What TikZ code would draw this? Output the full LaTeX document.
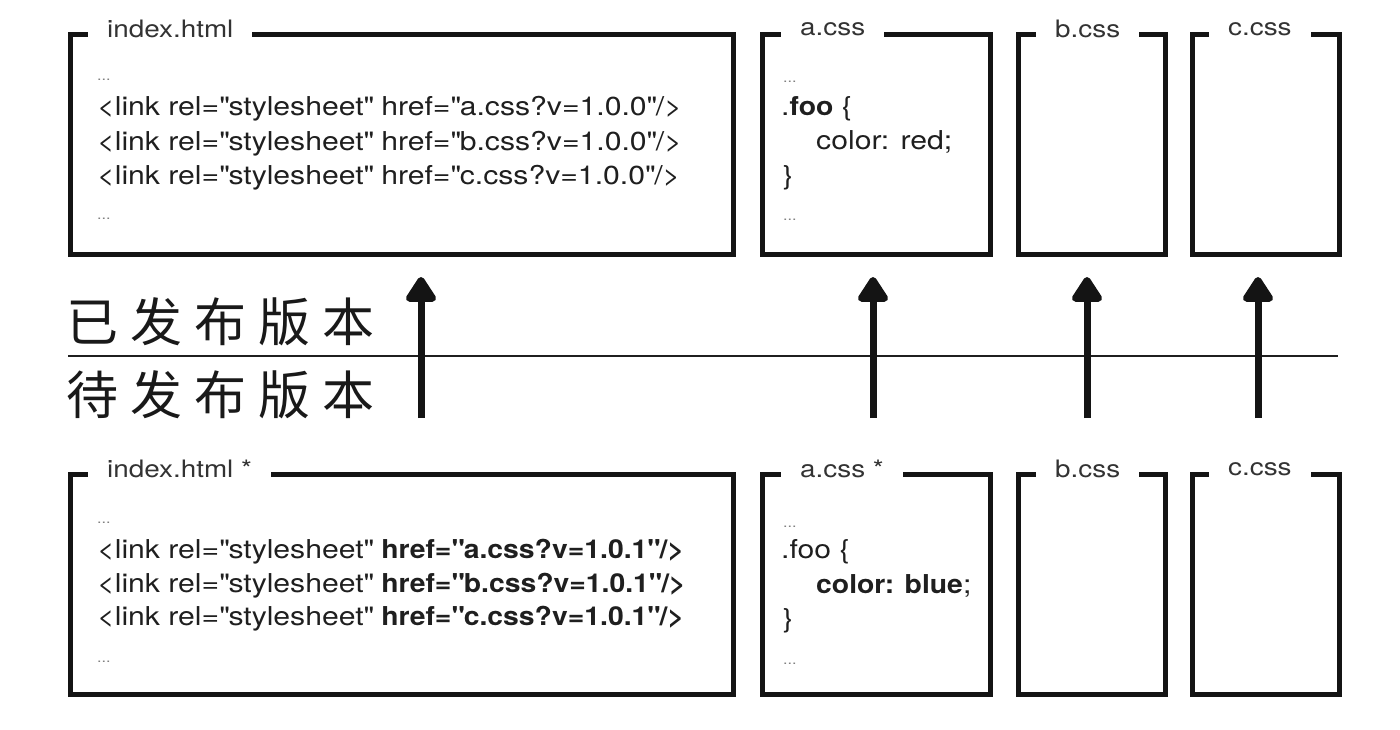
\documentclass[tikz,border=0pt]{standalone}
\usepackage{fontspec}
\setmainfont{TeX Gyre Heros}[FakeStretch=1.16, BoldFeatures={FakeStretch=1.09}]
\newfontfamily\cjk{Noto Sans CJK SC}
\usetikzlibrary{arrows.meta}
\newcommand{\cjkspaced}[1]{\cjkrun#1\relax}
\def\cjkrun#1{\ifx#1\relax\else\makebox[64pt][l]{#1}\expandafter\cjkrun\fi}
\newcommand{\qq}{\textquotedbl}
\begin{document}
\begin{tikzpicture}[x=1pt,y=-1pt,
  frame/.style={draw=black!92, line width=5pt, rectangle, inner sep=0pt, anchor=north west},
  ttl/.style={fill=white, inner xsep=19pt, inner ysep=4pt, anchor=west, text=black!80,
    font=\fontsize{24}{24}\selectfont},
  code/.style={anchor=base west, inner sep=0pt, text=black!88, font=\fontsize{26}{30}\selectfont},
  dots/.style={anchor=base west, inner sep=0pt, text=black!50, font=\fontsize{14}{14}\selectfont},
  cn/.style={anchor=base west, inner sep=0pt, text=black!90, font=\cjk\fontsize{52}{52}\selectfont},
  up/.style={line width=7pt, draw=black!92, -{Triangle[width=34pt,length=28pt,round]}},
  divider/.style={draw=black!88, line width=2.5pt}
]
\useasboundingbox (0,0) rectangle (1400,730);

% ---------- top row (released) ----------
\node[frame, minimum width=663pt, minimum height=220pt] (idx1) at (68,32) {};
\node[frame, minimum width=228pt, minimum height=220pt] (acss1) at (760,32) {};
\node[frame, minimum width=147pt, minimum height=220pt] (bcss1) at (1016,32) {};
\node[frame, minimum width=147pt, minimum height=220pt] (ccss1) at (1190,32) {};
\node[ttl] (tidx1) at (88,29) {index.html};
\node[ttl] (tacss1) at (781,29) {a.css};
\node[ttl] (tbcss1) at (1036,29) {b.css};
\node[ttl] (tccss1) at (1209,29) {c.css};

\node[dots] (d11) at (97,81) {...};
\node[code] (l11) at (97,116) {<link rel=\qq stylesheet\qq{} href=\qq a.css?v=1.0.0\qq/>};
\node[code] (l12) at (97,151) {<link rel=\qq stylesheet\qq{} href=\qq b.css?v=1.0.0\qq/>};
\node[code] (l13) at (97,185) {<link rel=\qq stylesheet\qq{} href=\qq c.css?v=1.0.0\qq/>};
\node[dots] (d12) at (97,220) {...};

\node[dots] (d13) at (783,83) {...};
\node[code] (c11) at (781,116) {.\textbf{foo} \{};
\node[code] (c12) at (816,150) {color: red;};
\node[code] (c13) at (783,185) {\}};
\node[dots] (d14) at (783,221) {...};

% ---------- divider and labels ----------
\coordinate (hl) at (68,356);
\coordinate (hr) at (1338,356);
\draw[divider] (hl) -- (hr);
\node[cn] (released) at (66,341) {\cjkspaced{已发布版本}};
\node[cn] (pending) at (66,414) {\cjkspaced{待发布版本}};

% ---------- bottom row (pending) ----------
\node[frame, minimum width=663pt, minimum height=220pt] (idx2) at (68,472) {};
\node[frame, minimum width=228pt, minimum height=220pt] (acss2) at (760,472) {};
\node[frame, minimum width=147pt, minimum height=220pt] (bcss2) at (1016,472) {};
\node[frame, minimum width=147pt, minimum height=220pt] (ccss2) at (1190,472) {};
\node[ttl] (tidx2) at (88,469) {index.html *};
\node[ttl] (tacss2) at (781,469) {a.css *};
\node[ttl] (tbcss2) at (1036,469) {b.css};
\node[ttl] (tccss2) at (1209,469) {c.css};

\node[dots] (d21) at (97,523) {...};
\node[code] (l21) at (97,558) {<link rel=\qq stylesheet\qq{} \textbf{href=\qq a.css?v=1.0.1\qq/>}};
\node[code] (l22) at (97,592) {<link rel=\qq stylesheet\qq{} \textbf{href=\qq b.css?v=1.0.1\qq/>}};
\node[code] (l23) at (97,625) {<link rel=\qq stylesheet\qq{} \textbf{href=\qq c.css?v=1.0.1\qq/>}};
\node[dots] (d22) at (97,662) {...};

\node[dots] (d23) at (783,527) {...};
\node[code] (c21) at (781,558) {.foo \{};
\node[code] (c22) at (816,593) {\textbf{color: blue};};
\node[code] (c23) at (783,627) {\}};
\node[dots] (d24) at (783,664) {...};

% ---------- arrows ----------
\coordinate (s1) at (421,418); \coordinate (e1) at (421,277);
\coordinate (s2) at (873,418); \coordinate (e2) at (873,277);
\coordinate (s3) at (1087,418); \coordinate (e3) at (1087,277);
\coordinate (s4) at (1258,418); \coordinate (e4) at (1258,277);
\draw[up] (s1) -- (e1);
\draw[up] (s2) -- (e2);
\draw[up] (s3) -- (e3);
\draw[up] (s4) -- (e4);
\end{tikzpicture}
\end{document}
